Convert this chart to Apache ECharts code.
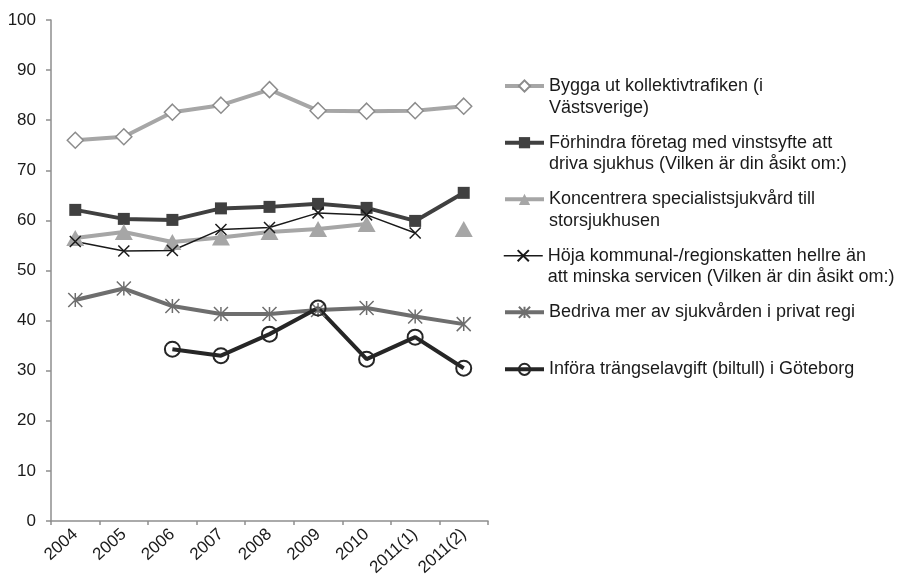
<!DOCTYPE html>
<html>
<head>
<meta charset="utf-8">
<script src="https://cdn.jsdelivr.net/npm/echarts@6/dist/echarts.min.js"></script>
<style>
  html, body { margin: 0; padding: 0; background: #fff; }
  #chart { width: 911px; height: 584px; }
</style>
</head>
<body>
<div id="chart"></div>
<script>
// kategorier (x-axel)
const years = ['2004', '2005', '2006', '2007', '2008', '2009', '2010', '2011(1)', '2011(2)']
const yTicks = [0, 10, 20, 30, 40, 50, 60, 70, 80, 90, 100]

// serier, värden
const bygga = [76.0, 76.7, 81.6, 83.0, 86.1, 81.9, 81.8, 81.9, 82.8]
const forhindra = [62.1, 60.3, 60.1, 62.4, 62.7, 63.3, 62.5, 59.9, 65.5]
const koncentrera = [56.5, 57.7, 55.7, 56.6, 57.7, 58.3, 59.3, null, 58.3]
const hoja = [55.8, 53.9, 54.0, 58.2, 58.6, 61.5, 61.1, 57.5, null]
const bedriva = [44.1, 46.4, 42.9, 41.3, 41.3, 42.1, 42.5, 40.8, 39.3]
const infora = [null, null, 34.3, 33.0, 37.3, 42.5, 32.3, 36.7, 30.5]

const names = [
  'Bygga ut kollektivtrafiken (i\nVästsverige)',
  'Förhindra företag med vinstsyfte att\ndriva sjukhus (Vilken är din åsikt om:)',
  'Koncentrera specialistsjukvård till\nstorsjukhusen',
  'Höja kommunal-/regionskatten hellre än\natt minska servicen (Vilken är din åsikt om:)',
  'Bedriva mer av sjukvården i privat regi',
  'Införa trängselavgift (biltull) i Göteborg',
]

const txt = '#1a1a1a'
const axisGray = '#8e8e8e'
const LH = 21.7
const font = 'Liberation Sans, Arial, sans-serif'

// legend: en komponent per rad, första raden i linje med ikonen
const rowCenters = [86, 142.7, 199.3, 255.7, 312.3, 369.3]
const legendLineW = [4, 4, 4, 1.5, 4, 4]
const legends = names.map((n, i) => {
  const twoLines = n.indexOf('\n') >= 0
  return {
    data: [n],
    left: 503,
    top: twoLines ? rowCenters[i] - LH * 1.5 : rowCenters[i] - LH / 2,
    orient: 'vertical',
    padding: 0,
    itemWidth: 39,
    itemHeight: 14,
    itemGap: 0,
    selectedMode: false,
    // tom rad först så att textens första rad hamnar mitt för ikonen
    formatter: (name) => (twoLines ? ' \n' + name : name),
    lineStyle: { width: legendLineW[i] },
    textStyle: {
      fontFamily: font,
      fontSize: 18,
      color: txt,
      lineHeight: LH,
    },
  }
})

const xPath = 'path://M0,0L10,10M10,0L0,10'
const starPath = 'path://M5,0L5,10M0,0L10,10M10,0L0,10'

let chart = echarts.init(document.getElementById('chart'))
chart.setOption({
  animation: false,
  legend: legends,
  grid: {
    left: 51,
    right: 423,
    top: 20,
    bottom: 63,
  },
  xAxis: {
    type: 'category',
    data: years,
    boundaryGap: true,
    axisLine: { lineStyle: { color: axisGray, width: 1.5 } },
    axisTick: { show: true, length: 4, lineStyle: { color: axisGray, width: 1.5 } },
    axisLabel: {
      rotate: 42,
      margin: 11,
      fontFamily: font,
      fontSize: 17,
      color: txt,
    },
  },
  yAxis: {
    type: 'value',
    min: yTicks[0],
    max: yTicks[yTicks.length - 1],
    interval: yTicks[1] - yTicks[0],
    splitLine: { show: false },
    axisLine: { show: true, lineStyle: { color: axisGray, width: 1.5 } },
    axisTick: { show: true, length: 5, lineStyle: { color: axisGray, width: 1.5 } },
    axisLabel: {
      margin: 15,
      fontFamily: font,
      fontSize: 17,
      color: txt,
    },
  },
  series: [
    {
      name: names[0],
      type: 'line',
      data: bygga,
      symbol: 'diamond',
      symbolSize: 16,
      lineStyle: { color: '#a6a6a6', width: 4 },
      itemStyle: { color: '#ffffff', borderColor: '#8c8c8c', borderWidth: 1.5 },
    },
    {
      name: names[1],
      type: 'line',
      data: forhindra,
      symbol: 'rect',
      symbolSize: 12,
      lineStyle: { color: '#404040', width: 4 },
      itemStyle: { color: '#404040', borderWidth: 0 },
    },
    {
      name: names[2],
      type: 'line',
      data: koncentrera,
      symbol: 'triangle',
      symbolSize: [18, 16],
      lineStyle: { color: '#a6a6a6', width: 4 },
      itemStyle: { color: '#a6a6a6', borderWidth: 0 },
    },
    {
      name: names[3],
      type: 'line',
      data: hoja,
      symbol: xPath,
      symbolSize: 11,
      lineStyle: { color: '#1a1a1a', width: 1.5 },
      itemStyle: { color: '#1a1a1a', borderColor: '#1a1a1a', borderWidth: 1.5 },
    },
    {
      name: names[4],
      type: 'line',
      data: bedriva,
      symbol: starPath,
      symbolSize: 14,
      lineStyle: { color: '#6e6e6e', width: 4 },
      itemStyle: { color: '#6e6e6e', borderColor: '#6e6e6e', borderWidth: 1.5 },
    },
    {
      name: names[5],
      type: 'line',
      data: infora,
      symbol: 'circle',
      symbolSize: 15,
      lineStyle: { color: '#262626', width: 4 },
      itemStyle: { color: 'rgba(255,255,255,0)', borderColor: '#262626', borderWidth: 2 },
    },
  ],
})
window.addEventListener('resize', () => {
  chart.resize()
})
</script>
</body>
</html>
